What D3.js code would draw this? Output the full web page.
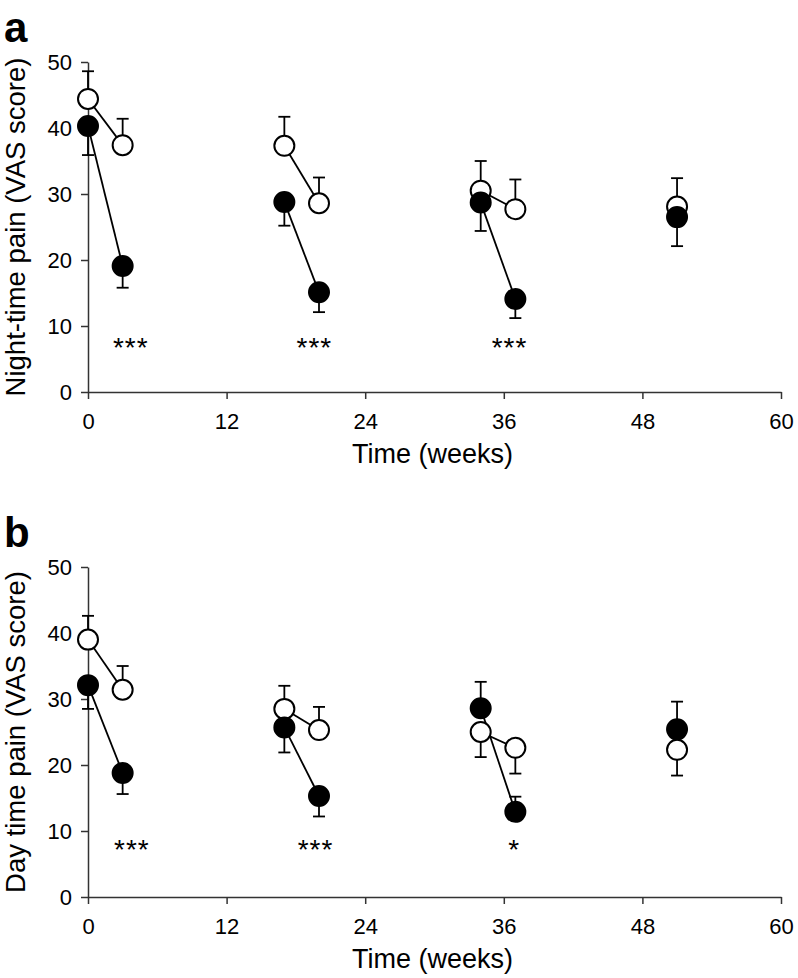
<!DOCTYPE html>
<html>
<head>
<meta charset="utf-8">
<script src="https://cdn.jsdelivr.net/npm/d3@7"></script>
<style>
  body { margin: 0; background: #fff; }
  svg text { font-family: "Liberation Sans", Arial, Helvetica, sans-serif; fill: #000; }
  .axis path, .axis line { stroke: #333; stroke-width: 1.5; }
  .axis text { font-size: 22px; }
</style>
</head>
<body>
<svg id="chart" width="798" height="978"></svg>
<script>
const weeks = [0, 3, 17, 20, 34, 37, 51];
const xTicks = [0, 12, 24, 36, 48, 60];
const yTicks = [0, 10, 20, 30, 40, 50];
const segments = [[0, 1], [2, 3], [4, 5]];

// error values: positive = bar drawn upward, negative = downward
const nightOpen = [44.4, 37.4, 37.3, 28.6, 30.5, 27.7, 28.1];
const nightOpenErr = [4.2, 4.0, 4.4, 3.9, 4.5, 4.5, 4.3];
const nightFilled = [40.3, 19.1, 28.8, 15.1, 28.7, 14.1, 26.5];
const nightFilledErr = [-4.4, -3.3, -3.6, -3.0, -4.3, -2.9, -4.4];

const dayOpen = [39.0, 31.4, 28.5, 25.3, 25.0, 22.6, 22.3];
const dayOpenErr = [3.6, 3.6, 3.5, 3.5, -3.8, -3.9, -3.9];
const dayFilled = [32.1, 18.8, 25.7, 15.3, 28.6, 12.9, 25.4];
const dayFilledErr = [-3.6, -3.2, -3.8, -3.1, 4.0, 2.3, 4.2];

const nightStars = [{ week: 3.7, y: 7.4, label: '***' }, { week: 19.6, y: 7.4, label: '***' }, { week: 36.5, y: 7.4, label: '***' }];
const dayStars = [{ week: 3.8, y: 7.9, label: '***' }, { week: 19.7, y: 7.9, label: '***' }, { week: 36.9, y: 7.9, label: '*' }];

const svg = d3.select('#chart');
const R = 10, CAP = 6;

function panel(top, letter, yLabel, open, openErr, filled, filledErr, stars) {
  const x = d3.scaleLinear().domain([0, 60]).range([88, 781]);
  const y = d3.scaleLinear().domain([0, 50]).range([top + 330, top]);
  const g = svg.append('g');

  g.append('g').attr('class', 'axis')
    .attr('transform', `translate(0,${y(0)})`)
    .call(d3.axisBottom(x).tickValues(xTicks).tickSize(7).tickSizeOuter(0).tickPadding(14));
  g.append('g').attr('class', 'axis')
    .attr('transform', `translate(${x(0)},0)`)
    .call(d3.axisLeft(y).tickValues(yTicks).tickSize(7).tickSizeOuter(0).tickPadding(9));

  g.append('text').attr('x', (x(0) + x(60)) / 2 - 2).attr('y', y(0) + 71)
    .attr('text-anchor', 'middle').style('font-size', '27px').text('Time (weeks)');
  g.append('text').attr('transform', `translate(25,${(y(0) + y(50)) / 2}) rotate(-90)`)
    .attr('text-anchor', 'middle').style('font-size', '27.5px').text(yLabel);
  g.append('text').attr('x', 4).attr('y', top - 20)
    .style('font-size', '42px').style('font-weight', 'bold').text(letter);

  const series = [
    { vals: open, err: openErr, fill: '#fff' },
    { vals: filled, err: filledErr, fill: '#000' }
  ];

  series.forEach(s => {
    const eb = g.append('g').attr('stroke', '#000').attr('stroke-width', 1.8);
    weeks.forEach((w, i) => {
      const y0 = y(s.vals[i]), y1 = y(s.vals[i] + s.err[i]);
      eb.append('line').attr('x1', x(w)).attr('x2', x(w)).attr('y1', y0).attr('y2', y1);
      eb.append('line').attr('x1', x(w) - CAP).attr('x2', x(w) + CAP).attr('y1', y1).attr('y2', y1);
    });
  });

  series.forEach(s => {
    g.append('g').selectAll('line').data(segments).enter().append('line')
      .attr('x1', d => x(weeks[d[0]])).attr('y1', d => y(s.vals[d[0]]))
      .attr('x2', d => x(weeks[d[1]])).attr('y2', d => y(s.vals[d[1]]))
      .attr('stroke', '#000').attr('stroke-width', 1.8);
  });

  series.forEach(s => {
    g.append('g').selectAll('circle').data(weeks).enter().append('circle')
      .attr('cx', d => x(d)).attr('cy', (d, i) => y(s.vals[i])).attr('r', R)
      .attr('fill', s.fill).attr('stroke', '#000').attr('stroke-width', 2);
  });

  g.append('g').selectAll('text').data(stars).enter().append('text')
    .attr('x', d => x(d.week)).attr('y', d => y(d.y) + 14)
    .attr('text-anchor', 'middle').style('font-size', '28px').style('letter-spacing', '1px')
    .text(d => d.label);
}

panel(62, 'a', 'Night-time pain (VAS score)', nightOpen, nightOpenErr, nightFilled, nightFilledErr, nightStars);
panel(567, 'b', 'Day time pain (VAS score)', dayOpen, dayOpenErr, dayFilled, dayFilledErr, dayStars);
</script>
</body>
</html>
